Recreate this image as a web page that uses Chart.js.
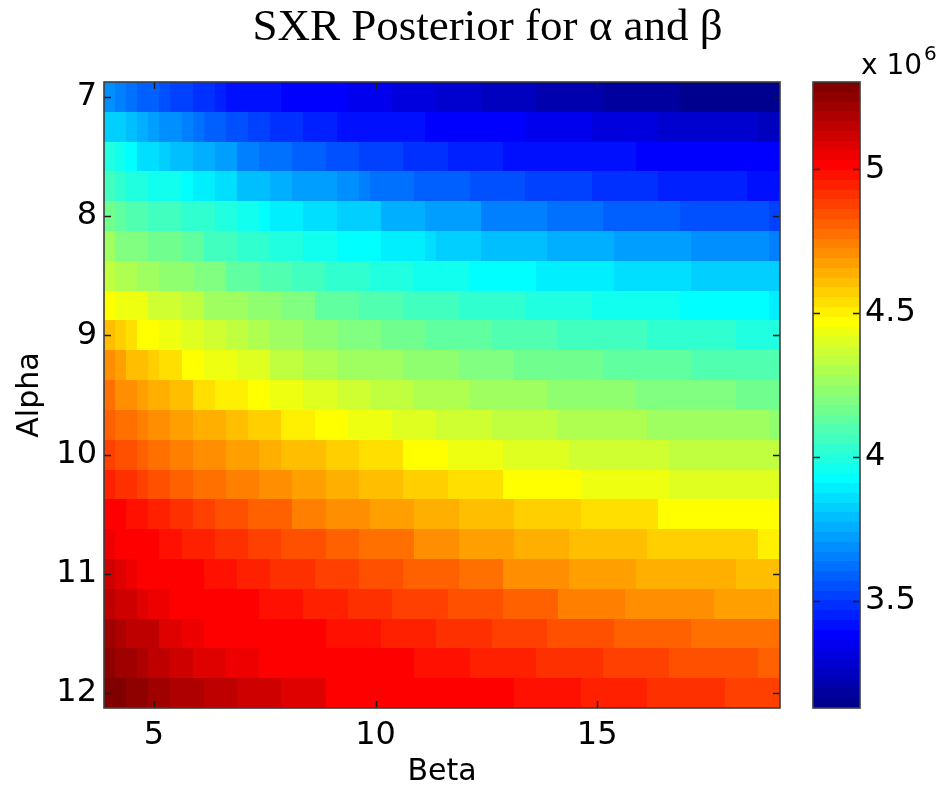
<!DOCTYPE html>
<html>
<head>
<meta charset="utf-8">
<script src="https://cdn.jsdelivr.net/npm/chart.js@4/dist/chart.umd.min.js"></script>
<style>
  html, body { margin: 0; padding: 0; background: #fff; }
  #frame { position: relative; width: 945px; height: 791px; overflow: hidden; }
  #plot { display: block; width: 975px; height: 791px; }
</style>
</head>
<body>
<div id="frame"><canvas id="plot" width="975" height="791"></canvas></div>
<script>
// Grid of the posterior: beta along x, alpha along y (step 0.25 on both)
const betaValues = [4,4.25,4.5,4.75,5,5.25,5.5,5.75,6,6.25,6.5,6.75,7,7.25,7.5,7.75,8,8.25,8.5,8.75,9,9.25,9.5,9.75,10,10.25,10.5,10.75,11,11.25,11.5,11.75,12,12.25,12.5,12.75,13,13.25,13.5,13.75,14,14.25,14.5,14.75,15,15.25,15.5,15.75,16,16.25,16.5,16.75,17,17.25,17.5,17.75,18,18.25,18.5,18.75,19];
const alphaValues = [7,7.25,7.5,7.75,8,8.25,8.5,8.75,9,9.25,9.5,9.75,10,10.25,10.5,10.75,11,11.25,11.5,11.75,12];

// Posterior values (x 10^6), one array per alpha row, ordered by beta
const alpha_7_00 = [3.689,3.655,3.621,3.587,3.587,3.553,3.519,3.519,3.485,3.485,3.451,3.417,3.417,3.417,3.417,3.417,3.383,3.383,3.383,3.383,3.383,3.383,3.349,3.349,3.349,3.349,3.315,3.315,3.315,3.315,3.281,3.281,3.281,3.281,3.247,3.247,3.247,3.247,3.247,3.213,3.213,3.213,3.213,3.213,3.213,3.179,3.179,3.179,3.179,3.179,3.179,3.179,3.145,3.145,3.145,3.145,3.145,3.145,3.145,3.145,3.128];
const alpha_7_25 = [3.825,3.825,3.791,3.757,3.723,3.689,3.689,3.655,3.621,3.587,3.587,3.553,3.553,3.519,3.519,3.485,3.485,3.485,3.451,3.451,3.451,3.417,3.417,3.417,3.417,3.417,3.417,3.417,3.417,3.383,3.383,3.383,3.383,3.383,3.383,3.383,3.383,3.383,3.349,3.349,3.349,3.349,3.349,3.349,3.315,3.315,3.315,3.315,3.315,3.315,3.281,3.281,3.281,3.281,3.281,3.281,3.281,3.281,3.281,3.247,3.247];
const alpha_7_50 = [3.995,3.961,3.927,3.859,3.859,3.825,3.791,3.791,3.757,3.757,3.723,3.723,3.655,3.655,3.621,3.621,3.621,3.587,3.587,3.587,3.553,3.553,3.553,3.519,3.519,3.519,3.519,3.485,3.485,3.485,3.485,3.451,3.451,3.451,3.451,3.451,3.417,3.417,3.417,3.417,3.417,3.417,3.417,3.417,3.417,3.417,3.417,3.417,3.383,3.383,3.383,3.383,3.383,3.383,3.383,3.383,3.383,3.383,3.383,3.383,3.383];
const alpha_7_75 = [4.063,4.029,3.995,3.995,3.961,3.961,3.961,3.927,3.893,3.893,3.859,3.859,3.791,3.791,3.791,3.757,3.757,3.723,3.723,3.723,3.723,3.689,3.689,3.655,3.621,3.621,3.621,3.621,3.587,3.587,3.587,3.587,3.587,3.553,3.553,3.553,3.553,3.553,3.519,3.519,3.519,3.519,3.519,3.519,3.485,3.485,3.485,3.485,3.485,3.485,3.451,3.451,3.451,3.451,3.451,3.451,3.451,3.451,3.417,3.417,3.417];
const alpha_8_00 = [4.165,4.131,4.097,4.097,4.063,4.063,4.063,4.029,4.029,4.029,3.995,3.995,3.961,3.961,3.927,3.893,3.893,3.893,3.859,3.859,3.859,3.825,3.825,3.825,3.825,3.757,3.757,3.757,3.757,3.723,3.723,3.723,3.723,3.723,3.655,3.655,3.655,3.655,3.655,3.655,3.621,3.621,3.621,3.621,3.621,3.587,3.587,3.587,3.587,3.587,3.587,3.587,3.553,3.553,3.553,3.553,3.553,3.553,3.553,3.553,3.519];
const alpha_8_25 = [4.267,4.199,4.199,4.199,4.165,4.165,4.165,4.131,4.131,4.063,4.063,4.063,4.029,4.029,4.029,3.995,3.995,3.995,3.961,3.961,3.961,3.927,3.927,3.927,3.927,3.893,3.893,3.893,3.893,3.859,3.825,3.825,3.825,3.825,3.791,3.791,3.791,3.791,3.791,3.791,3.757,3.757,3.757,3.757,3.757,3.757,3.723,3.723,3.723,3.723,3.723,3.723,3.723,3.689,3.689,3.689,3.689,3.689,3.689,3.689,3.655];
const alpha_8_50 = [4.335,4.301,4.301,4.267,4.267,4.233,4.233,4.233,4.199,4.199,4.199,4.131,4.131,4.131,4.097,4.097,4.097,4.063,4.063,4.063,4.029,4.029,4.029,4.029,3.995,3.995,3.995,3.995,3.961,3.961,3.961,3.961,3.961,3.927,3.927,3.927,3.927,3.927,3.927,3.893,3.893,3.893,3.893,3.893,3.893,3.893,3.859,3.859,3.859,3.859,3.859,3.859,3.859,3.825,3.825,3.825,3.825,3.825,3.825,3.825,3.825];
const alpha_8_75 = [4.471,4.437,4.437,4.437,4.369,4.369,4.369,4.335,4.335,4.267,4.267,4.267,4.267,4.233,4.233,4.233,4.199,4.199,4.199,4.131,4.131,4.131,4.131,4.097,4.097,4.097,4.097,4.063,4.063,4.063,4.063,4.063,4.029,4.029,4.029,4.029,4.029,4.029,3.995,3.995,3.995,3.995,3.995,3.995,3.961,3.961,3.961,3.961,3.961,3.961,3.961,3.961,3.927,3.927,3.927,3.927,3.927,3.927,3.927,3.927,3.893];
const alpha_9_00 = [4.607,4.573,4.539,4.471,4.471,4.437,4.437,4.403,4.403,4.369,4.369,4.335,4.335,4.301,4.301,4.267,4.267,4.267,4.233,4.233,4.233,4.199,4.199,4.199,4.199,4.165,4.165,4.165,4.165,4.131,4.131,4.131,4.131,4.131,4.131,4.097,4.097,4.097,4.097,4.097,4.097,4.063,4.063,4.063,4.063,4.063,4.063,4.063,4.063,4.029,4.029,4.029,4.029,4.029,4.029,4.029,4.029,3.995,3.995,3.995,3.995];
const alpha_9_25 = [4.709,4.675,4.607,4.607,4.573,4.539,4.539,4.471,4.471,4.437,4.437,4.437,4.403,4.403,4.403,4.335,4.335,4.335,4.301,4.301,4.301,4.267,4.267,4.267,4.267,4.267,4.267,4.233,4.233,4.233,4.233,4.233,4.199,4.199,4.199,4.199,4.199,4.165,4.165,4.165,4.165,4.165,4.165,4.165,4.165,4.131,4.131,4.131,4.131,4.131,4.131,4.131,4.131,4.097,4.097,4.097,4.097,4.097,4.097,4.097,4.097];
const alpha_9_50 = [4.777,4.709,4.709,4.675,4.641,4.641,4.607,4.607,4.539,4.539,4.505,4.505,4.505,4.471,4.471,4.437,4.437,4.437,4.403,4.403,4.403,4.369,4.369,4.369,4.335,4.335,4.335,4.335,4.301,4.301,4.301,4.301,4.301,4.267,4.267,4.267,4.267,4.267,4.267,4.267,4.233,4.233,4.233,4.233,4.233,4.233,4.233,4.233,4.199,4.199,4.199,4.199,4.199,4.199,4.199,4.199,4.199,4.165,4.165,4.165,4.165];
const alpha_9_75 = [4.811,4.777,4.777,4.743,4.709,4.709,4.675,4.675,4.641,4.641,4.641,4.607,4.607,4.573,4.573,4.573,4.505,4.505,4.505,4.471,4.471,4.471,4.437,4.437,4.437,4.437,4.403,4.403,4.403,4.403,4.369,4.369,4.369,4.369,4.369,4.335,4.335,4.335,4.335,4.335,4.335,4.301,4.301,4.301,4.301,4.301,4.301,4.301,4.301,4.267,4.267,4.267,4.267,4.267,4.267,4.267,4.267,4.267,4.267,4.267,4.233];
const alpha_10_00 = [4.879,4.845,4.845,4.811,4.777,4.777,4.743,4.743,4.709,4.709,4.709,4.675,4.675,4.675,4.641,4.641,4.607,4.607,4.607,4.607,4.573,4.573,4.573,4.539,4.539,4.539,4.539,4.471,4.471,4.471,4.471,4.437,4.437,4.437,4.437,4.437,4.403,4.403,4.403,4.403,4.403,4.403,4.369,4.369,4.369,4.369,4.369,4.369,4.369,4.369,4.369,4.335,4.335,4.335,4.335,4.335,4.335,4.335,4.335,4.335,4.335];
const alpha_10_25 = [4.947,4.913,4.913,4.879,4.845,4.845,4.811,4.811,4.777,4.777,4.777,4.743,4.743,4.743,4.709,4.709,4.709,4.675,4.675,4.675,4.641,4.641,4.641,4.607,4.607,4.607,4.607,4.573,4.573,4.573,4.573,4.539,4.539,4.539,4.539,4.539,4.471,4.471,4.471,4.471,4.471,4.471,4.471,4.437,4.437,4.437,4.437,4.437,4.437,4.437,4.437,4.403,4.403,4.403,4.403,4.403,4.403,4.403,4.403,4.403,4.403];
const alpha_10_50 = [5.015,5.015,4.981,4.981,4.947,4.947,4.913,4.913,4.879,4.879,4.845,4.845,4.845,4.811,4.811,4.811,4.811,4.743,4.743,4.743,4.709,4.709,4.709,4.709,4.675,4.675,4.675,4.675,4.641,4.641,4.641,4.641,4.607,4.607,4.607,4.607,4.607,4.573,4.573,4.573,4.573,4.573,4.573,4.539,4.539,4.539,4.539,4.539,4.539,4.539,4.471,4.471,4.471,4.471,4.471,4.471,4.471,4.471,4.471,4.471,4.471];
const alpha_10_75 = [5.049,5.015,5.015,5.015,5.015,4.981,4.981,4.947,4.947,4.947,4.913,4.913,4.913,4.879,4.879,4.879,4.845,4.845,4.845,4.845,4.811,4.811,4.811,4.777,4.777,4.777,4.777,4.777,4.709,4.709,4.709,4.709,4.675,4.675,4.675,4.675,4.675,4.641,4.641,4.641,4.641,4.641,4.607,4.607,4.607,4.607,4.607,4.607,4.607,4.573,4.573,4.573,4.573,4.573,4.573,4.573,4.573,4.573,4.573,4.505,4.505];
const alpha_11_00 = [5.117,5.083,5.049,5.015,5.015,5.015,5.015,5.015,5.015,4.981,4.981,4.981,4.947,4.947,4.947,4.913,4.913,4.913,4.913,4.879,4.879,4.879,4.879,4.845,4.845,4.845,4.845,4.811,4.811,4.811,4.811,4.811,4.777,4.777,4.777,4.777,4.709,4.709,4.709,4.709,4.709,4.709,4.675,4.675,4.675,4.675,4.675,4.675,4.641,4.641,4.641,4.641,4.641,4.641,4.641,4.641,4.641,4.607,4.607,4.607,4.607];
const alpha_11_25 = [5.151,5.117,5.117,5.083,5.049,5.049,5.015,5.015,5.015,5.015,5.015,5.015,5.015,5.015,4.981,4.981,4.981,4.981,4.947,4.947,4.947,4.947,4.913,4.913,4.913,4.913,4.879,4.879,4.879,4.879,4.879,4.845,4.845,4.845,4.845,4.845,4.811,4.811,4.811,4.811,4.811,4.743,4.743,4.743,4.743,4.743,4.743,4.709,4.709,4.709,4.709,4.709,4.709,4.709,4.709,4.675,4.675,4.675,4.675,4.675,4.675];
const alpha_11_50 = [5.219,5.185,5.151,5.151,5.151,5.083,5.083,5.049,5.049,5.015,5.015,5.015,5.015,5.015,5.015,5.015,5.015,5.015,5.015,5.015,4.981,4.981,4.981,4.981,4.981,4.947,4.947,4.947,4.947,4.947,4.913,4.913,4.913,4.913,4.913,4.879,4.879,4.879,4.879,4.879,4.845,4.845,4.845,4.845,4.845,4.845,4.811,4.811,4.811,4.811,4.811,4.811,4.811,4.777,4.777,4.777,4.777,4.777,4.777,4.777,4.777];
const alpha_11_75 = [5.253,5.219,5.219,5.185,5.151,5.151,5.117,5.117,5.083,5.083,5.083,5.049,5.049,5.049,5.015,5.015,5.015,5.015,5.015,5.015,5.015,5.015,5.015,5.015,5.015,5.015,5.015,5.015,4.981,4.981,4.981,4.981,4.981,4.947,4.947,4.947,4.947,4.947,4.947,4.913,4.913,4.913,4.913,4.913,4.913,4.879,4.879,4.879,4.879,4.879,4.879,4.845,4.845,4.845,4.845,4.845,4.845,4.845,4.845,4.811,4.811];
const alpha_12_00 = [5.303,5.287,5.253,5.253,5.219,5.219,5.185,5.185,5.185,5.151,5.151,5.151,5.117,5.117,5.117,5.117,5.083,5.083,5.083,5.083,5.015,5.015,5.015,5.015,5.015,5.015,5.015,5.015,5.015,5.015,5.015,5.015,5.015,5.015,5.015,5.015,5.015,4.981,4.981,4.981,4.981,4.981,4.981,4.947,4.947,4.947,4.947,4.947,4.947,4.913,4.913,4.913,4.913,4.913,4.913,4.913,4.879,4.879,4.879,4.879,4.879];

const posteriorRows = [alpha_7_00, alpha_7_25, alpha_7_50, alpha_7_75, alpha_8_00, alpha_8_25, alpha_8_50, alpha_8_75,
  alpha_9_00, alpha_9_25, alpha_9_50, alpha_9_75, alpha_10_00, alpha_10_25, alpha_10_50, alpha_10_75,
  alpha_11_00, alpha_11_25, alpha_11_50, alpha_11_75, alpha_12_00];

// Tick marks
const betaTicks = [5, 10, 15];
const alphaTicks = [7, 8, 9, 10, 11, 12];
const colorbarTicks = [3.5, 4, 4.5, 5];

// Cells as points; colour limits follow the data range
const cells = [];
posteriorRows.forEach((row, r) => row.forEach((v, c) => cells.push({ x: betaValues[c], y: alphaValues[r], v })));
const vMin = Math.min(...cells.map(p => p.v));
const vMax = Math.max(...cells.map(p => p.v));
const LEVELS = 64;

// 64-entry jet colormap
function jet(i) { // i in 1..64
  const u = p => (p < 0 || p > 46) ? 0 : p < 16 ? (p + 1) / 16 : p < 31 ? 1 : (47 - p) / 16;
  return [u(i - 25), u(i - 9), u(i + 7)].map(c => Math.round(c * 255));
}
function levelOf(v) {
  const i = Math.floor((v - vMin) / (vMax - vMin) * LEVELS) + 1;
  return Math.max(1, Math.min(LEVELS, i));
}
function rgb(c) { return `rgb(${c[0]},${c[1]},${c[2]})`; }

const halfB = (betaValues[1] - betaValues[0]) / 2;
const halfA = (alphaValues[1] - alphaValues[0]) / 2;

const SANS = '"DejaVu Sans", Verdana, sans-serif';
const TICK_FONT = { family: SANS, size: 32 };
const LABEL_FONT = { family: SANS, size: 30 };
const INK = '#000';
const FRAME = '#3c3c3c';

// keep label overhang from padding the layout
const noPad = s => { s.paddingTop = 0; s.paddingBottom = 0; s.paddingLeft = 0; s.paddingRight = 0; };

const heatmap = {
  id: 'heatmap',
  beforeDatasetsDraw(chart) {
    const { ctx, chartArea: a, scales: { x, y } } = chart;
    ctx.save();
    ctx.beginPath(); ctx.rect(a.left, a.top, a.width, a.height); ctx.clip();
    for (const p of chart.data.datasets[0].data) {
      const x0 = Math.round(x.getPixelForValue(p.x - halfB));
      const x1 = Math.round(x.getPixelForValue(p.x + halfB));
      const y0 = Math.round(y.getPixelForValue(p.y - halfA));
      const y1 = Math.round(y.getPixelForValue(p.y + halfA));
      ctx.fillStyle = rgb(jet(levelOf(p.v)));
      ctx.fillRect(Math.min(x0, x1), Math.min(y0, y1), Math.abs(x1 - x0), Math.abs(y1 - y0));
    }
    ctx.restore();
  },
  afterDraw(chart) {
    const { ctx, chartArea: a, scales: { x, y, cb } } = chart;
    const TL = 7;
    ctx.save();
    // inward tick marks on all four sides
    ctx.strokeStyle = '#1a1a1a';
    ctx.lineWidth = 1.5;
    ctx.beginPath();
    for (const t of alphaTicks) {
      const py = Math.round(y.getPixelForValue(t)) + 0.5;
      ctx.moveTo(a.left, py); ctx.lineTo(a.left + TL, py);
      ctx.moveTo(a.right, py); ctx.lineTo(a.right - TL, py);
    }
    for (const t of betaTicks) {
      const px = Math.round(x.getPixelForValue(t)) + 0.5;
      ctx.moveTo(px, a.top); ctx.lineTo(px, a.top + TL);
      ctx.moveTo(px, a.bottom); ctx.lineTo(px, a.bottom - TL);
    }
    ctx.stroke();
    ctx.strokeStyle = FRAME;
    ctx.lineWidth = 1.6;
    ctx.strokeRect(a.left, a.top, a.width, a.height);

    // colour bar: one band per colormap level
    const bx0 = cb.left + 33, bx1 = cb.left + 80;
    const step = (vMax - vMin) / LEVELS;
    for (let k = 0; k < LEVELS; k++) {
      const yTop = Math.round(cb.getPixelForValue(vMin + (k + 1) * step));
      const yBot = Math.round(cb.getPixelForValue(vMin + k * step));
      ctx.fillStyle = rgb(jet(k + 1));
      ctx.fillRect(bx0, yTop, bx1 - bx0, yBot - yTop);
    }
    ctx.strokeStyle = '#1a1a1a';
    ctx.lineWidth = 1.5;
    ctx.beginPath();
    for (const t of colorbarTicks) {
      const py = Math.round(cb.getPixelForValue(t)) + 0.5;
      ctx.moveTo(bx0, py); ctx.lineTo(bx0 + TL, py);
      ctx.moveTo(bx1, py); ctx.lineTo(bx1 - TL, py);
    }
    ctx.stroke();
    ctx.strokeStyle = FRAME;
    ctx.lineWidth = 1.6;
    ctx.strokeRect(bx0, cb.top, bx1 - bx0, cb.bottom - cb.top);

    // exponent label above the colour bar
    ctx.fillStyle = INK;
    ctx.textAlign = 'left';
    ctx.textBaseline = 'alphabetic';
    ctx.font = `28px ${SANS}`;
    const base = 'x 10';
    const bx = bx1 + 1;
    ctx.fillText(base, bx, a.top - 8);
    const w = ctx.measureText(base).width;
    ctx.font = `20px ${SANS}`;
    ctx.fillText('6', bx + w + 2, a.top - 22);
    ctx.restore();
  }
};

new Chart(document.getElementById('plot'), {
  type: 'scatter',
  data: { datasets: [{ data: cells, pointRadius: 0, pointHoverRadius: 0, showLine: false }] },
  options: {
    responsive: false,
    animation: false,
    events: [],
    layout: { padding: 0 },
    plugins: {
      legend: { display: false },
      tooltip: { enabled: false },
      title: {
        display: true,
        text: 'SXR Posterior for α and β',
        color: INK,
        font: { family: '"Liberation Serif", "Times New Roman", serif', size: 45, weight: 'normal', lineHeight: 1.2 },
        padding: { top: 1, bottom: 27 }
      }
    },
    scales: {
      x: {
        type: 'linear', position: 'bottom',
        min: betaValues[0] - halfB, max: betaValues[betaValues.length - 1] + halfB,
        afterBuildTicks: s => { s.ticks = betaTicks.map(v => ({ value: v })); },
        afterFit: s => { s.height = 83; noPad(s); },
        grid: { display: false, drawTicks: false },
        border: { display: false },
        ticks: { font: TICK_FONT, color: INK, padding: 8, maxRotation: 0, autoSkip: false, callback: v => String(v) },
        title: { display: true, text: 'Beta', color: INK, font: LABEL_FONT, padding: { top: 0, bottom: 1 } }
      },
      y: {
        type: 'linear', position: 'left', reverse: true,
        min: alphaValues[0] - halfA, max: alphaValues[alphaValues.length - 1] + halfA,
        afterBuildTicks: s => { s.ticks = alphaTicks.map(v => ({ value: v })); },
        afterFit: s => { s.width = 104; noPad(s); },
        grid: { display: false, drawTicks: false },
        border: { display: false },
        ticks: { font: TICK_FONT, color: INK, padding: 7, autoSkip: false, callback: v => String(v) },
        title: { display: true, text: 'Alpha', color: INK, font: LABEL_FONT, padding: { top: 12, bottom: 0 } }
      },
      cb: {
        type: 'linear', position: 'right',
        min: vMin, max: vMax,
        afterBuildTicks: s => { s.ticks = colorbarTicks.map(v => ({ value: v })); },
        afterFit: s => { s.width = 195; noPad(s); },
        grid: { display: false, drawTicks: false },
        border: { display: false },
        ticks: { font: TICK_FONT, color: INK, padding: 85, autoSkip: false, callback: v => String(v) }
      }
    }
  },
  plugins: [heatmap]
});
</script>
</body>
</html>
